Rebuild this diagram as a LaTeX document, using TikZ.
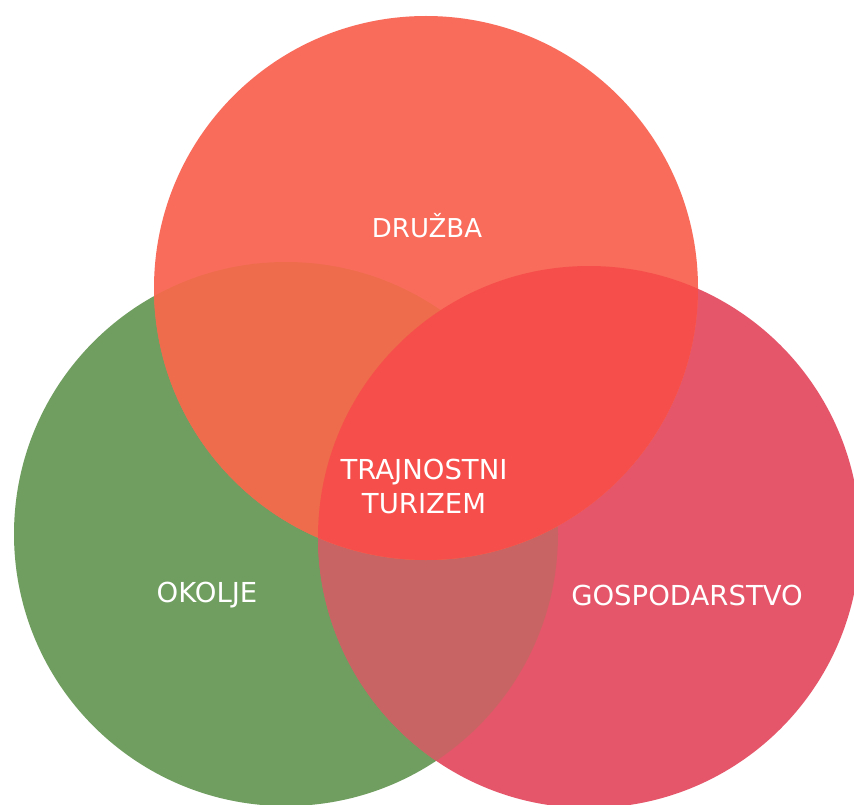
\documentclass[tikz,border=0pt]{standalone}
\usepackage{fontspec}
\setmainfont{DejaVu Sans}
\definecolor{cT}{RGB}{249,108,92}
\definecolor{cL}{RGB}{112,158,96}
\definecolor{cR}{RGB}{229,86,106}
\definecolor{cLR}{RGB}{201,100,100}
\definecolor{cTL}{RGB}{238,108,76}
\definecolor{cTR}{RGB}{246,78,74}
\begin{document}
\begin{tikzpicture}[x=1pt,y=-1pt,
  lbl/.style={text=white,font=\fontsize{27.5}{34}\selectfont,align=center,inner sep=0pt}]
\useasboundingbox (0,0) rectangle (854,805);
\fill[white] (0,0) rectangle (854,805);
\coordinate (ct) at (426,288);
\coordinate (cl) at (286,534);
\coordinate (cr) at (589,537);
% base circles
\fill[cL] (cl) circle[radius=272];
\fill[cR] (cr) circle[radius=271];
\begin{scope}
  \clip (cl) circle[radius=272];
  \fill[cLR] (cr) circle[radius=271];
\end{scope}
\fill[cT] (ct) circle[radius=272];
\begin{scope}
  \clip (ct) circle[radius=272];
  \fill[cTL] (cl) circle[radius=272];
  \fill[cTR] (cr) circle[radius=271];
\end{scope}
% labels
\node[lbl,font=\fontsize{26}{32}\selectfont,anchor=base] (druzba) at (427,237) {DRUŽBA};
\node[lbl] (trajnostni) at (424,486) {TRAJNOSTNI\\TURIZEM};
\node[lbl,anchor=base] (okolje) at (207,602) {OKOLJE};
\node[lbl,anchor=base] (gospodarstvo) at (687,605) {GOSPODARSTVO};
\end{tikzpicture}
\end{document}
